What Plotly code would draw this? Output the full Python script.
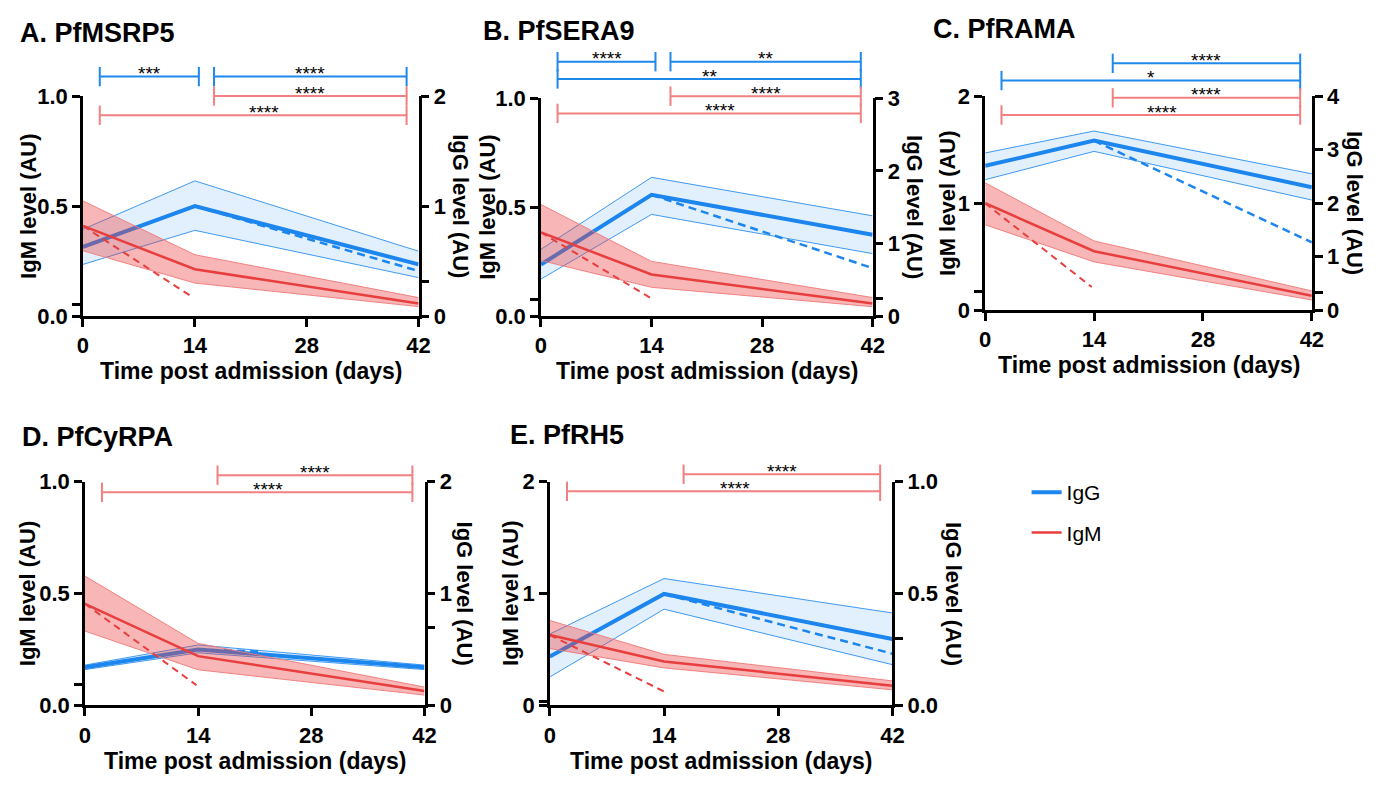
import plotly.graph_objects as go

W, H = 1390, 791
FONT = "Liberation Sans, Arial, sans-serif"

# ---- data -------------------------------------------------------------
days = [0, 14, 42]
panel_titles = ["A. PfMSRP5", "B. PfSERA9", "C. PfRAMA", "D. PfCyRPA", "E. PfRH5"]

# IgG (right axis): geometric mean and 95% CI at days 0, 14, 42
igg_mean = [[0.63, 1.00, 0.47], [0.71, 1.67, 1.12], [2.70, 3.17, 2.30], [0.34, 0.50, 0.34], [0.218, 0.498, 0.297]]
igg_low = [[0.47, 0.78, 0.35], [0.51, 1.40, 0.86], [2.44, 2.97, 2.06], [0.32, 0.47, 0.32], [0.127, 0.430, 0.182]]
igg_high = [[0.79, 1.23, 0.59], [0.92, 1.91, 1.38], [2.94, 3.35, 2.55], [0.36, 0.54, 0.36], [0.319, 0.567, 0.413]]
# IgG modelled decay from day 14
igg_decay_start = [1.00, 1.67, 3.17, 0.50, 0.498]
igg_decay_end = [0.41, 0.66, 1.27, 0.48, 0.231]
igg_decay_end_day = [42, 42, 42, 22, 42]

# IgM (left axis): geometric mean and 95% CI at days 0, 14, 42
igm_mean = [[0.410, 0.213, 0.057], [0.384, 0.191, 0.058], [1.000, 0.552, 0.136], [0.454, 0.220, 0.064], [0.629, 0.392, 0.176]]
igm_low = [[0.297, 0.150, 0.043], [0.255, 0.132, 0.043], [0.799, 0.452, 0.096], [0.332, 0.159, 0.046], [0.508, 0.335, 0.139]]
igm_high = [[0.524, 0.279, 0.084], [0.512, 0.251, 0.085], [1.191, 0.648, 0.181], [0.578, 0.277, 0.082], [0.759, 0.456, 0.219]]
# IgM modelled decay from day 0
igm_decay_start = [0.410, 0.384, 1.000, 0.454, 0.629]
igm_decay_end = [0.091, 0.085, 0.217, 0.090, 0.124]
igm_decay_end_day = [13.5, 13.8, 13.7, 13.8, 14.0]

# axis ticks
x_ticks = [0, 14, 28, 42]
igm_max = [1.0, 1.0, 2.0, 1.0, 2.0]
igg_max = [2.0, 3.0, 4.0, 2.0, 1.0]
igm_tickvals = [[0, 0.053, 0.5, 1], [0, 0.077, 0.5, 1], [0, 0.172, 1, 2], [0, 0.094, 0.5, 1], [0, 0.037, 1, 2]]
igm_ticktext = [["0.0", "", "0.5", "1.0"], ["0.0", "", "0.5", "1.0"], ["0", "", "1", "2"],
                ["0.0", "", "0.5", "1.0"], ["0", "", "1", "2"]]
igg_tickvals = [[0, 0.317, 1, 2], [0, 0.24, 1, 2, 3], [0, 0.33, 1, 2, 3, 4], [0, 0.70, 1, 2], [0, 0.30, 0.5, 1.0]]
igg_ticktext = [["0", "", "1", "2"], ["0", "", "1", "2", "3"], ["0", "", "1", "2", "3", "4"],
                ["0", "", "1", "2"], ["0.0", "", "0.5", "1.0"]]

# significance comparisons: (isotype, comparison, stars, row)
comparisons = [
    [("IgG", "0-14", "***", 2), ("IgG", "14-42", "****", 2), ("IgM", "14-42", "****", 1), ("IgM", "0-42", "****", 0)],
    [("IgG", "0-14", "****", 3), ("IgG", "14-42", "**", 3), ("IgG", "0-42", "**", 2),
     ("IgM", "14-42", "****", 1), ("IgM", "0-42", "****", 0)],
    [("IgG", "14-42", "****", 3), ("IgG", "0-42", "*", 2), ("IgM", "14-42", "****", 1), ("IgM", "0-42", "****", 0)],
    [("IgM", "14-42", "****", 1), ("IgM", "0-42", "****", 0)],
    [("IgM", "14-42", "****", 1), ("IgM", "0-42", "****", 0)],
]

# ---- styling / layout constants --------------------------------------
BLUE = "rgb(28,134,238)"
BLUE_FILL = "rgba(30,136,240,0.13)"
BLUE_EDGE = "rgba(30,136,240,0.85)"
RED = "rgb(232,62,62)"
RED_FILL = "rgba(236,64,64,0.38)"
RED_EDGE = "rgba(240,120,120,0.9)"
BRACKET = {"IgG": "rgb(30,136,235)", "IgM": "rgb(242,128,128)"}
SPAN = {"0-14": (2.1, 14.5), "14-42": (16.4, 40.5), "0-42": (2.1, 40.5)}
# horizontal nudge (days) of the star label for the long IgM bracket
LABEL_NUDGE = {("IgM", "0-42"): 1.4}

# plot boxes in pixels: left, right, top, bottom
boxes = [(78, 418, 87, 314), (542, 878, 89, 314), (992, 1323, 87, 308), (80, 424, 485, 716), (551, 898, 485, 716)]
# bracket rows: offset of row 0 below the top of the box, and row spacing (px)
bracket_rows = [(19.7, 20.0), (15.7, 17.8), (19.4, 17.8), (11.0, 17.7), (10.0, 17.7)]
left_title_off = [56, 55, 38, 58, 40]
right_title_off = [43, 43, 43, 41, 62]
title_pos = [(12, 22), (481, 20), (937, 18), (14, 439), (509, 437)]


def fx(px):
    return px / W


def fy(py):
    return 1 - py / H


fig = go.Figure()
layout = dict(
    width=W, height=H, margin=dict(l=0, r=0, t=0, b=0),
    paper_bgcolor="white", plot_bgcolor="white",
    font=dict(family=FONT, color="black"),
    showlegend=True,
)
shapes = []
annotations = []

axis_common = dict(showgrid=False, zeroline=False, showline=True, linecolor="black", linewidth=2.5,
                   ticks="outside", ticklen=8, tickwidth=2.5, tickcolor="black",
                   tickfont=dict(family=FONT, size=22, color="black", weight="bold"))

for i in range(5):
    L, R, T, B = boxes[i]
    xn = "" if i == 0 else str(i + 1)
    g = 2 * i + 1
    m = 2 * i + 2
    gn = "" if g == 1 else str(g)
    xref, gref, mref = "x" + xn, "y" + gn, "y" + str(m)

    layout["xaxis" + xn] = dict(axis_common, domain=[fx(L), fx(R)], anchor=gref, range=[0, 42],
                                tickvals=x_ticks)
    layout["yaxis" + gn] = dict(axis_common, domain=[fy(B), fy(T)], anchor=xref, side="right",
                                range=[0, igg_max[i]], tickvals=igg_tickvals[i], ticktext=igg_ticktext[i])
    layout["yaxis" + str(m)] = dict(axis_common, domain=[fy(B), fy(T)], anchor=xref, side="left",
                                    overlaying=gref, range=[0, igm_max[i]],
                                    tickvals=igm_tickvals[i], ticktext=igm_ticktext[i])

    # IgG on the right axis
    fig.add_trace(go.Scatter(x=days, y=igg_low[i], xaxis=xref, yaxis=gref, mode="lines",
                             line=dict(color=BLUE_EDGE, width=1), showlegend=False, hoverinfo="skip"))
    fig.add_trace(go.Scatter(x=days, y=igg_high[i], xaxis=xref, yaxis=gref, mode="lines",
                             line=dict(color=BLUE_EDGE, width=1), fill="tonexty", fillcolor=BLUE_FILL,
                             showlegend=False, hoverinfo="skip"))
    fig.add_trace(go.Scatter(x=days, y=igg_mean[i], xaxis=xref, yaxis=gref, mode="lines",
                             line=dict(color=BLUE, width=4), name="IgG", legendgroup="IgG",
                             showlegend=(i == 0)))
    fig.add_trace(go.Scatter(x=[14, igg_decay_end_day[i]], y=[igg_decay_start[i], igg_decay_end[i]],
                             xaxis=xref, yaxis=gref, mode="lines",
                             line=dict(color=BLUE, width=2.5, dash="8px,5px"), showlegend=False))

    # IgM on the left axis (drawn above IgG)
    fig.add_trace(go.Scatter(x=days, y=igm_low[i], xaxis=xref, yaxis=mref, mode="lines",
                             line=dict(color=RED_EDGE, width=1), showlegend=False, hoverinfo="skip"))
    fig.add_trace(go.Scatter(x=days, y=igm_high[i], xaxis=xref, yaxis=mref, mode="lines",
                             line=dict(color=RED_EDGE, width=1), fill="tonexty", fillcolor=RED_FILL,
                             showlegend=False, hoverinfo="skip"))
    fig.add_trace(go.Scatter(x=days, y=igm_mean[i], xaxis=xref, yaxis=mref, mode="lines",
                             line=dict(color=RED, width=2.5), name="IgM", legendgroup="IgM",
                             showlegend=(i == 0)))
    fig.add_trace(go.Scatter(x=[0, igm_decay_end_day[i]], y=[igm_decay_start[i], igm_decay_end[i]],
                             xaxis=xref, yaxis=mref, mode="lines",
                             line=dict(color=RED, width=2, dash="7px,5px"), showlegend=False))

    # significance brackets, placed in the axis domain of the panel
    hpx = B - T
    base, step = bracket_rows[i]
    cap = 10 / hpx
    for iso, comp, stars, row in comparisons[i]:
        x0, x1 = SPAN[comp]
        yd = 1 - (base - row * step) / hpx
        col = BRACKET[iso]
        dx = "x" + xn + " domain"
        dy = "y" + str(m) + " domain"
        shapes.append(dict(type="line", xref=dx, yref=dy, x0=x0 / 42, x1=x1 / 42, y0=yd, y1=yd,
                           line=dict(color=col, width=2)))
        for xe in (x0, x1):
            shapes.append(dict(type="line", xref=dx, yref=dy, x0=xe / 42, x1=xe / 42,
                               y0=yd - cap, y1=yd + cap, line=dict(color=col, width=2)))
        lx = (x0 + x1) / 2 + LABEL_NUDGE.get((iso, comp), 0.0)
        annotations.append(dict(xref=dx, yref=dy, x=lx / 42, y=yd + 3 / hpx,
                                text=stars, showarrow=False, xanchor="center", yanchor="middle",
                                font=dict(family=FONT, size=19, color="black")))

    # titles
    tx, ty = title_pos[i]
    annotations.append(dict(xref="paper", yref="paper", x=fx(tx), y=fy(ty), text=panel_titles[i],
                            showarrow=False, xanchor="left", yanchor="middle",
                            font=dict(family=FONT, size=27, color="black", weight="bold")))
    annotations.append(dict(xref="paper", yref="paper", x=fx((L + R) / 2), y=fy(B + 57),
                            text="Time post admission (days)", showarrow=False,
                            xanchor="center", yanchor="middle",
                            font=dict(family=FONT, size=23, color="black", weight="bold")))
    annotations.append(dict(xref="paper", yref="paper", x=fx(L - left_title_off[i]), y=fy((T + B) / 2),
                            text="IgM level (AU)", textangle=-90, showarrow=False,
                            xanchor="center", yanchor="middle",
                            font=dict(family=FONT, size=22, color="black", weight="bold")))
    annotations.append(dict(xref="paper", yref="paper", x=fx(R + right_title_off[i]), y=fy((T + B) / 2),
                            text="IgG level (AU)", textangle=90, showarrow=False,
                            xanchor="center", yanchor="middle",
                            font=dict(family=FONT, size=22, color="black", weight="bold")))

layout["shapes"] = shapes
layout["annotations"] = annotations
layout["legend"] = dict(x=fx(1034), y=fy(475), xanchor="left", yanchor="top",
                        bgcolor="rgba(0,0,0,0)", traceorder="grouped", tracegroupgap=10,
                        font=dict(family=FONT, size=21, color="black"))
fig.update_layout(**layout)
fig.write_html("out.html")
